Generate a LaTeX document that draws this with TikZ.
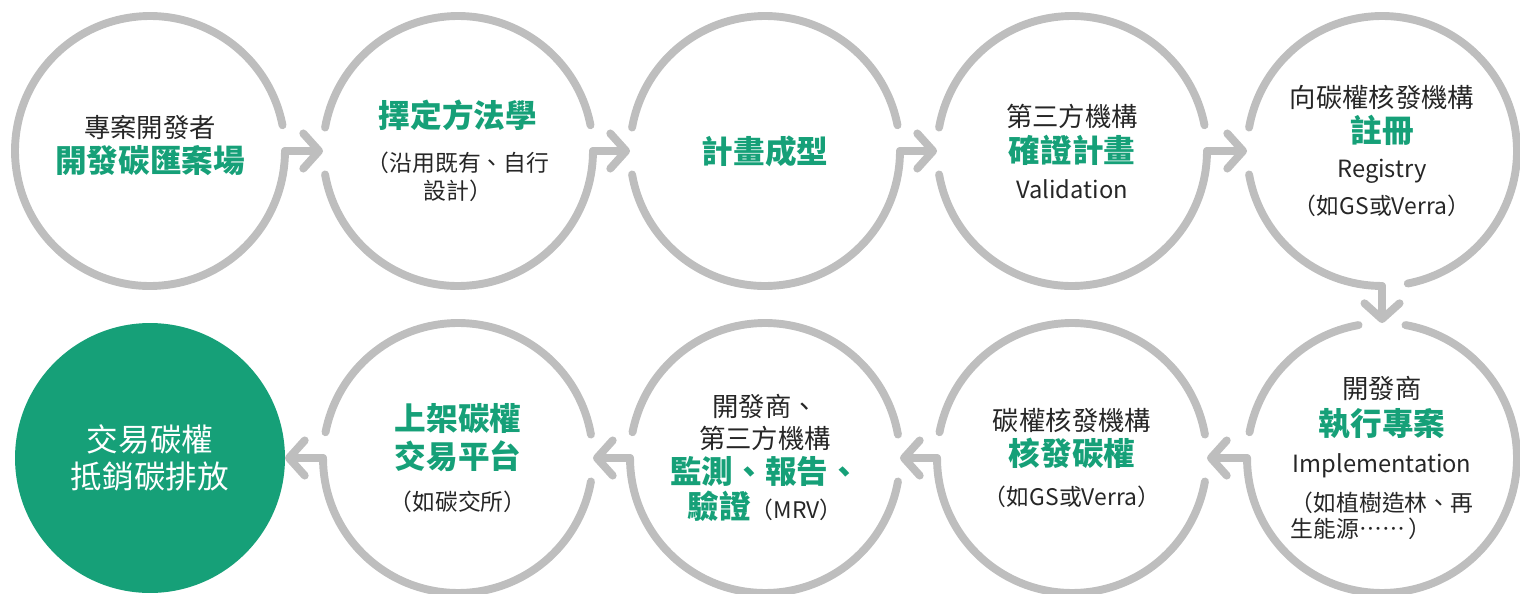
\documentclass[tikz,border=0pt]{standalone}
\usepackage{fontspec}
\setmainfont[Language=Chinese Traditional]{Noto Sans CJK TC}
\usetikzlibrary{arrows.meta}

\definecolor{ringgray}{RGB}{190,190,190}
\definecolor{carbongreen}{RGB}{22,160,120}
\newcommand{\grn}[1]{{\color{carbongreen}\bfseries\fontsize{18}{22}\selectfont #1}}
\newcommand{\smalltxt}[1]{{\fontsize{13}{16}\selectfont #1}}
\newcommand{\latin}[1]{{\fontsize{13.5}{16}\selectfont #1}}

\begin{document}
\begin{tikzpicture}[x=0.02cm, y=0.02cm,
    stage/.style={circle, minimum size=5.4cm, inner sep=0pt, outer sep=0pt,
      align=center, font=\fontsize{15}{20}\selectfont, text=black!85},
    ring/.style={draw=ringgray, line width=4.5pt, line cap=round},
    link/.style={draw=ringgray, line width=4.5pt, line cap=round,
      -{Straight Barb[length=9pt,width=20pt,round]}}]

  \useasboundingbox (0,0) rectangle (1520,593);
  \def\R{2.7cm}

  % top row, left to right
  \node[stage] (c1) at (150,442) {專案開發者\\\grn{開發碳匯案場}\\[-12pt]~};
  \node[stage] (c2) at (458,442) {\grn{擇定方法學}\\[5pt]\smalltxt{（沿用既有、自行}\\[-4pt]\smalltxt{設計）}};
  \node[stage] (c3) at (765,442) {\grn{計畫成型}};
  \node[stage] (c4) at (1072,442) {第三方機構\\[1pt]\grn{確證計畫}\\\latin{Validation}};
  \node[stage] (c5) at (1382,442) {向碳權核發機構\\\grn{註冊}\\\latin{Registry}\\[1pt]\smalltxt{（如GS或Verra）}};

  % bottom row, right to left
  \node[stage] (c10) at (1382,135) {開發商\\[1pt]\grn{執行專案}\\[1pt]\latin{Implementation}\\[2.5pt]\smalltxt{（如植樹造林、再}\\[-5pt]\smalltxt{\makebox[8em][l]{生能源⋯⋯\,）}}};
  \node[stage] (c9) at (1072,135) {碳權核發機構\\\grn{核發碳權}\\[2.5pt]\smalltxt{（如GS或Verra）}};
  \node[stage] (c8) at (765,135) {開發商、\\[-2pt]第三方機構\\\grn{監測、報告、}\\\grn{驗證}\smalltxt{（MRV）}};
  \node[stage] (c7) at (458,135) {\grn{上架碳權}\\[1.5pt]\grn{交易平台}\\[4pt]\smalltxt{（如碳交所）}};
  \node[stage, fill=carbongreen, text=white, font=\fontsize{18}{21}\selectfont] (c6) at (150,135) {交易碳權\\抵銷碳排放};

  % rings with openings for the arrows
  \foreach \n/\a/\b in {c1/11/360, c2/11/170, c2/190/360, c3/11/170, c3/190/360,
      c4/11/170, c4/190/360, c5/190/270, c5/281/530,
      c10/100/169, c10/180/440, c9/10/169, c9/180/350,
      c8/10/169, c8/180/350, c7/10/169, c7/180/350}
    \draw[ring] ([shift={(\a:\R)}]\n.center) arc[start angle=\a, end angle=\b, radius=\R];

  % arrows
  \foreach \s/\t in {c1/c2, c2/c3, c3/c4, c4/c5, c5/c10, c10/c9, c9/c8, c8/c7, c7/c6}
    \draw[link] (\s) -- (\t);
\end{tikzpicture}
\end{document}
